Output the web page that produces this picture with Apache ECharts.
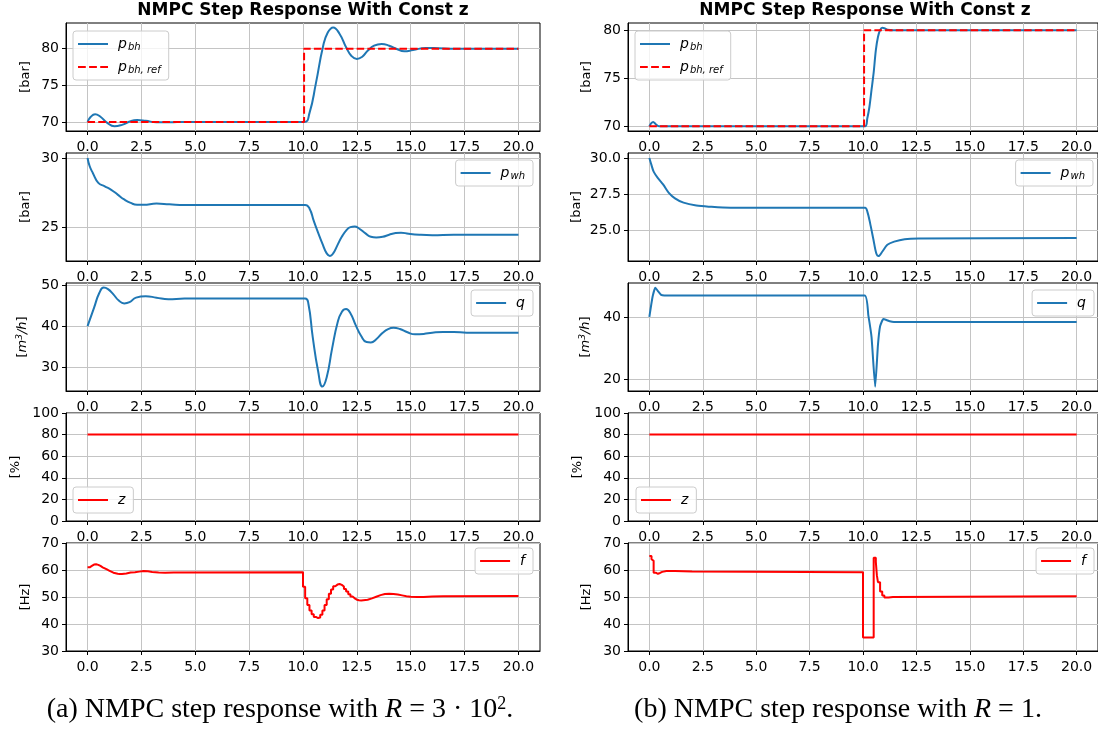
<!DOCTYPE html>
<html>
<head>
<meta charset="utf-8">
<script src="https://cdn.jsdelivr.net/npm/echarts@6/dist/echarts.min.js"></script>
<style>
  html, body { margin: 0; padding: 0; background: #ffffff; }
  #chart { width: 1098px; height: 729px; }
</style>
</head>
<body>
<div id="chart"></div>
<script>
// ---------------- data ----------------
const xTicks = [0, 2.5, 5, 7.5, 10, 12.5, 15, 17.5, 20];
const xRange = [-1, 21];

// (a) R = 3e2
const tPbhA = [0, 0.15, 0.35, 0.6, 0.9, 1.25, 1.6, 2.0, 2.3, 2.7, 3.2, 3.8, 4.5, 10.05, 10.3, 10.6, 10.93, 11.15, 11.4, 11.7, 12.0, 12.25, 12.5, 12.75, 13.0, 13.3, 13.65, 14.0, 14.35, 14.7, 15.1, 15.7, 16.3, 17.0, 18.0, 20.0];
const pbhA  = [70, 70.7, 71.05, 70.7, 69.9, 69.4, 69.6, 70.1, 70.25, 70.15, 69.95, 69.95, 70, 70, 71.2, 75.3, 80.3, 82.2, 82.9, 82.0, 80.2, 79.0, 78.6, 78.9, 79.7, 80.4, 80.64, 80.4, 79.95, 79.65, 79.8, 80.1, 80.05, 79.98, 80, 80];
const tRefA = [0, 10.05, 10.05, 20];
const refA  = [70, 70, 80, 80];

const tPwhA = [0, 0.1, 0.25, 0.5, 0.8, 1.1, 1.4, 1.7, 2.0, 2.3, 2.6, 3.2, 3.8, 4.5, 10.1, 10.3, 10.5, 10.7, 10.9, 11.1, 11.25, 11.4, 11.6, 11.8, 12.0, 12.2, 12.4, 12.6, 12.9, 13.15, 13.4, 13.7, 14.0, 14.3, 14.55, 14.9, 15.4, 16.0, 17.0, 20.0];
const pwhA  = [30, 29.4, 28.9, 28.2, 27.95, 27.7, 27.35, 27.0, 26.75, 26.62, 26.62, 26.7, 26.65, 26.6, 26.6, 26.35, 25.45, 24.6, 23.8, 23.1, 22.92, 23.1, 23.7, 24.3, 24.75, 25.0, 25.05, 24.9, 24.55, 24.3, 24.25, 24.3, 24.45, 24.57, 24.6, 24.52, 24.45, 24.42, 24.45, 24.45];

const tQA = [0, 0.3, 0.55, 0.75, 0.95, 1.2, 1.45, 1.7, 1.95, 2.25, 2.7, 3.2, 3.75, 4.5, 10.1, 10.25, 10.45, 10.7, 10.9, 11.1, 11.35, 11.6, 11.8, 12.0, 12.2, 12.45, 12.7, 12.95, 13.15, 13.4, 13.7, 13.95, 14.2, 14.5, 14.85, 15.2, 15.6, 16.0, 16.5, 17.0, 17.6, 20.0];
const qA  = [40, 44.5, 48.2, 49.5, 49.1, 47.8, 46.3, 45.6, 45.9, 47.0, 47.35, 47.0, 46.6, 46.8, 46.8, 45.5, 37.4, 29.0, 25.2, 27.5, 34.5, 40.8, 43.5, 44.2, 43.2, 40.2, 37.6, 36.1, 36.0, 36.8, 38.4, 39.3, 39.6, 39.3, 38.5, 38.0, 38.1, 38.4, 38.6, 38.6, 38.4, 38.4];

const tZA = [0, 20];
const zA  = [80, 80];

const tFA = [0, 0.1, 0.2, 0.3, 0.4, 0.5, 0.6, 0.7, 0.8, 0.9, 1.0, 1.1, 1.2, 1.3, 1.4, 1.5, 1.6, 1.7, 1.8, 1.9, 2.0, 2.2, 2.4, 2.6, 2.8, 3.0, 3.3, 3.6, 4.0,
             10.0, 10.1, 10.2, 10.3, 10.4, 10.5, 10.6, 10.7, 10.8, 10.9, 11.0, 11.1, 11.2, 11.3, 11.4, 11.5, 11.6, 11.7, 11.8, 11.9, 12.0, 12.1, 12.2, 12.3, 12.4, 12.5, 12.6, 12.7, 12.8,
             13.0, 13.2, 13.4, 13.6, 13.8, 14.0, 14.2, 14.4, 14.6, 14.8, 15.0, 15.3, 15.6, 16.0, 16.5, 20.0];
const fA  = [61.0, 61.5, 62.0, 62.1, 61.9, 61.5, 61.0, 60.6, 60.2, 59.8, 59.4, 59.0, 58.8, 58.6, 58.5, 58.5, 58.6, 58.7, 58.9, 59.1, 59.2, 59.4, 59.6, 59.5, 59.3, 59.1, 59.0, 59.1, 59.2,
             53.8, 49.5, 47.0, 45.0, 43.6, 42.6, 42.2, 42.4, 43.4, 45.0, 47.0, 49.2, 51.2, 52.8, 54.0, 54.6, 54.8, 54.5, 53.9, 53.0, 52.0, 51.0, 50.2, 49.5, 49.0, 48.8, 48.7, 48.8, 49.0,
             49.5, 50.1, 50.7, 51.1, 51.2, 51.1, 50.9, 50.6, 50.3, 50.1, 50.0, 50.0, 50.2, 50.3, 50.4, 50.4];

// (b) R = 1
const tPbhB = [0, 0.08, 0.18, 0.3, 0.45, 10.1, 10.2, 10.3, 10.4, 10.5, 10.6, 10.7, 10.8, 10.9, 11.0, 11.15, 11.4, 20.0];
const pbhB  = [70, 70.3, 70.45, 70.2, 70, 70, 70.8, 72.0, 73.8, 75.6, 77.9, 79.3, 80.0, 80.25, 80.2, 80.05, 80, 80];
const tRefB = [0, 10.05, 10.05, 20];
const refB  = [70, 70, 80, 80];

const tPwhB = [0, 0.1, 0.2, 0.4, 0.65, 0.9, 1.2, 1.6, 2.2, 2.8, 3.8, 10.1, 10.2, 10.33, 10.49, 10.62, 10.73, 10.9, 11.14, 11.46, 11.95, 12.6, 20.0];
const pwhB  = [30, 29.5, 29.05, 28.6, 28.15, 27.6, 27.2, 26.9, 26.7, 26.62, 26.55, 26.55, 26.3, 25.5, 24.33, 23.4, 23.2, 23.5, 23.98, 24.2, 24.37, 24.42, 24.45];

const tQB = [0, 0.15, 0.28, 0.4, 0.55, 0.7, 10.08, 10.25, 10.4, 10.57, 10.7, 10.8, 10.95, 11.1, 11.25, 11.45, 20.0];
const qB  = [40, 46.5, 49.4, 48.3, 47.1, 46.9, 46.9, 40.5, 33.5, 17.6, 31.0, 37.0, 39.3, 39.0, 38.6, 38.4, 38.4];

const tZB = [0, 20];
const zB  = [80, 80];

const tFB = [0, 0.1, 0.15, 0.2, 0.3, 0.4, 0.5, 0.6, 0.8, 1.2, 2.0, 10.0, 10.5, 10.6, 10.65, 10.7, 10.8, 10.9, 11.0, 11.2, 11.4, 20.0];
const fB  = [65.2, 64.0, 63.4, 59.0, 58.6, 58.9, 59.3, 59.6, 59.6, 59.4, 59.2, 35.0, 64.5, 63.0, 58.0, 55.5, 52.0, 50.6, 49.8, 50.0, 50.3, 50.3];

// axis ranges and tick values, top panel to bottom panel
const yRangesA = [[68.76, 83.5], [22.55, 30.36], [24.1, 50.6], [0, 100], [30, 70]];
const yRangesB = [[69.5, 80.75], [22.86, 30.34], [16.2, 50.9], [0, 100], [30, 70]];
const yTicksA  = [[70, 75, 80], [25, 30], [30, 40, 50], [0, 20, 40, 60, 80, 100], [30, 40, 50, 60, 70]];
const yTicksB  = [[70, 75, 80], [25, 27.5, 30], [20, 40], [0, 20, 40, 60, 80, 100], [30, 40, 50, 60, 70]];
const yDecimalsB = [0, 1, 0, 0, 0];
const yNames = ['[bar]', '[bar]', '[{i|m}{sup|3}{i|/h}]', '[%]', '[Hz]'];

const titleText = 'NMPC Step Response With Const z';
const captionA = '(a) NMPC step response with {i|R} = 3 · 10{sup|2}.';
const captionB = '(b) NMPC step response with {i|R} = 1.';

// ---------------- chart ----------------
const BLUE = '#1f77b4', RED = '#ff0000';
const FONT = 'DejaVu Sans';
const DASH = [7.5, 3.2];
const pairs = (t, v) => t.map((x, i) => [x, v[i]]);

const gridTops = [23, 153, 283, 413, 543];
const gridH = 108;
const cols = [
  { left: 66, width: 474, ranges: yRangesA, ticks: yTicksA, decimals: [0, 0, 0, 0, 0],
    nameGaps: [34, 34, 36, 44, 34] },
  { left: 628, width: 474, ranges: yRangesB, ticks: yTicksB, decimals: yDecimalsB,
    nameGaps: [35, 45, 35, 44, 35] }
];

const grids = [], xAxes = [], yAxes = [];
cols.forEach((c, ci) => {
  gridTops.forEach((top, pi) => {
    const idx = ci * 5 + pi;
    grids.push({ left: c.left, top: top, width: c.width, height: gridH,
      show: true, borderColor: '#000', borderWidth: 1, backgroundColor: 'transparent' });
    xAxes.push({
      type: 'value', gridIndex: idx, min: xRange[0], max: xRange[1],
      axisLine: { show: true, onZero: false, lineStyle: { color: '#000', width: 1 } },
      axisTick: { show: true, length: 4, customValues: xTicks, lineStyle: { color: '#000' } },
      axisLabel: { customValues: xTicks, formatter: v => v.toFixed(1), margin: 9,
        color: '#000', fontSize: 14, fontFamily: FONT },
      splitLine: { show: true, lineStyle: { color: '#c4c4c4', width: 1 } }
    });
    const dec = c.decimals[pi];
    yAxes.push({
      type: 'value', gridIndex: idx, min: c.ranges[pi][0], max: c.ranges[pi][1],
      name: yNames[pi], nameLocation: 'middle', nameRotate: 90, nameGap: c.nameGaps[pi],
      nameTextStyle: { color: '#000', fontSize: 13, fontFamily: FONT,
        rich: { i: { fontStyle: 'italic', fontSize: 13, fontFamily: FONT },
                sup: { fontStyle: 'italic', fontSize: 9, fontFamily: FONT, padding: [0, 0, 6, 0] } } },
      axisLine: { show: true, onZero: false, lineStyle: { color: '#000', width: 1 } },
      axisTick: { show: true, length: 4, customValues: c.ticks[pi], lineStyle: { color: '#000' } },
      axisLabel: { customValues: c.ticks[pi], formatter: v => v.toFixed(dec), margin: 7,
        color: '#000', fontSize: 14, fontFamily: FONT },
      splitLine: { show: true, lineStyle: { color: '#c4c4c4', width: 1 } }
    });
  });
});

const lineSeries = (name, idx, data, color, extra) => Object.assign({
  name: name, type: 'line', xAxisIndex: idx, yAxisIndex: idx, data: data,
  symbol: 'none', smooth: 0.5,
  lineStyle: { color: color, width: 2 }, itemStyle: { color: color },
  animation: false
}, extra || {});

const series = [
  lineSeries('pbh_a', 0, pairs(tPbhA, pbhA), BLUE),
  lineSeries('pbhref_a', 0, pairs(tRefA, refA), RED, { smooth: false, lineStyle: { color: RED, width: 2, type: DASH } }),
  lineSeries('pwh_a', 1, pairs(tPwhA, pwhA), BLUE),
  lineSeries('q_a', 2, pairs(tQA, qA), BLUE),
  lineSeries('z_a', 3, pairs(tZA, zA), RED, { smooth: false }),
  lineSeries('f_a', 4, pairs(tFA, fA), RED, { smooth: false, step: 'end' }),
  lineSeries('pbh_b', 5, pairs(tPbhB, pbhB), BLUE, { smooth: 0.3 }),
  lineSeries('pbhref_b', 5, pairs(tRefB, refB), RED, { smooth: false, lineStyle: { color: RED, width: 2, type: DASH } }),
  lineSeries('pwh_b', 6, pairs(tPwhB, pwhB), BLUE, { smooth: 0.3 }),
  lineSeries('q_b', 7, pairs(tQB, qB), BLUE, { smooth: 0.15 }),
  lineSeries('z_b', 8, pairs(tZB, zB), RED, { smooth: false }),
  lineSeries('f_b', 9, pairs(tFB, fB), RED, { smooth: false, step: 'end' })
];

// legend keys: solid and dashed line samples
const SOLID_ICON = 'path://M0,0h30v2h-30z';
const DASH_ICON = 'path://M0,0h7.5v2h-7.5zM10.7,0h7.5v2h-7.5zM21.4,0h7.5v2h-7.5z';
const legendLabels = {
  pbh: '{i|p}{s|bh}', pbhref: '{i|p}{s|bh, ref}', pwh: '{i|p}{s|wh}',
  q: '{i|q}', z: '{i|z}', f: '{i|f}'
};
const legendBase = {
  orient: 'vertical', backgroundColor: 'rgba(255,255,255,0.8)', borderColor: '#cccccc',
  borderWidth: 1, borderRadius: 3, padding: [4, 8, 4, 5], itemGap: 5,
  itemWidth: 30, itemHeight: 2, symbolKeepAspect: false, selectedMode: false,
  formatter: n => legendLabels[n.split('_')[0]],
  textStyle: { color: '#000', fontFamily: FONT, padding: [0, 0, 0, 5], lineHeight: 18,
    rich: { i: { fontStyle: 'italic', fontSize: 14, fontFamily: FONT, lineHeight: 18 },
            s: { fontStyle: 'italic', fontSize: 10, fontFamily: FONT, lineHeight: 18, padding: [6, 0, 0, 1] } } }
};
const item = n => ({ name: n, icon: n.indexOf('ref') >= 0 ? DASH_ICON : SOLID_ICON });
const leg = (names, pos) => Object.assign({}, legendBase, { data: names.map(item) }, pos);
const legends = [
  leg(['pbh_a', 'pbhref_a'], { left: 73, top: 31 }),
  leg(['pwh_a'], { right: 565, top: 160 }),
  leg(['q_a'], { right: 565, top: 290 }),
  leg(['z_a'], { left: 73, top: 487 }),
  leg(['f_a'], { right: 565, top: 548 }),
  leg(['pbh_b', 'pbhref_b'], { left: 635, top: 31 }),
  leg(['pwh_b'], { right: 5, top: 160 }),
  leg(['q_b'], { right: 4, top: 290 }),
  leg(['z_b'], { left: 636, top: 487 }),
  leg(['f_b'], { right: 4, top: 548 })
];

const serifRich = { i: { fontStyle: 'italic', fontFamily: 'Liberation Serif', fontSize: 28 },
                    sup: { fontFamily: 'Liberation Serif', fontSize: 18, padding: [0, 0, 12, 0] } };
const graphics = [
  { type: 'text', x: 303, y: 11, style: { text: titleText, textAlign: 'center', textVerticalAlign: 'middle',
      font: 'bold 17px "DejaVu Sans"', fill: '#000' } },
  { type: 'text', x: 865, y: 11, style: { text: titleText, textAlign: 'center', textVerticalAlign: 'middle',
      font: 'bold 17px "DejaVu Sans"', fill: '#000' } },
  { type: 'text', x: 280, y: 710, style: { text: captionA, textAlign: 'center', textVerticalAlign: 'middle',
      fontFamily: 'Liberation Serif', fontSize: 28, fill: '#000', rich: serifRich } },
  { type: 'text', x: 838, y: 710, style: { text: captionB, textAlign: 'center', textVerticalAlign: 'middle',
      fontFamily: 'Liberation Serif', fontSize: 28, fill: '#000', rich: serifRich } }
];

const chart = echarts.init(document.getElementById('chart'), null, { renderer: 'canvas' });
chart.setOption({
  backgroundColor: '#ffffff',
  animation: false,
  grid: grids, xAxis: xAxes, yAxis: yAxes,
  legend: legends, series: series, graphic: graphics
});
</script>
</body>
</html>
